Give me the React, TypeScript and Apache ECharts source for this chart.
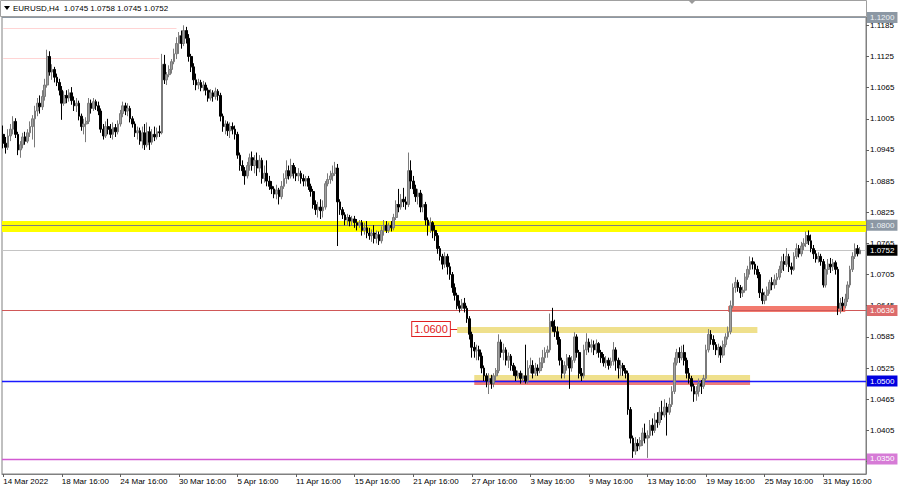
import React, { useEffect, useRef } from 'react';
import * as echarts from 'echarts';

// ---- data (prices in pips: value / 10000) ----
// each candle: [open, close, low, high]
const symbol = 'EURUSD';
const timeframe = 'H4';

const s14Mar = [
  [10975,10958,10948,10992],[10958,10950,10938,10970],[10950,10972,10945,10985],[10972,10985,10962,10995],
  [10985,11000,10975,11010],[11000,10975,10968,11006],[10975,10945,10935,10980],[10945,10955,10930,10962],
  [10955,10970,10948,10978],[10970,10962,10955,10980],[10962,10978,10958,10985],[10978,10990,10970,11000],
  [10990,11005,10965,11012],[11005,11020,10950,11030],[11020,11035,11010,11045],[11035,11028,11015,11050],
  [11028,11048,11022,11060],[11048,11070,11040,11082],[11070,11125,11065,11138],[11125,11095,11088,11135],
  [11095,11100,11080,11110],[11100,11085,11075,11105],[11085,11075,11068,11092],[11075,11060,11050,11082],
];
const s18Mar = [
  [11060,11035,11003,11068],[11035,11050,11030,11058],[11050,11045,11035,11060],[11045,11055,11038,11062],
  [11055,11040,11032,11066],[11040,11030,11020,11048],[11030,11035,11018,11045],[11035,11010,11002,11040],
  [11010,10990,10982,11015],[10990,10995,10975,11005],[10995,11000,10960,11008],[11000,11035,10995,11045],
  [11035,11025,11015,11042],[11025,11038,11020,11045],[11038,11030,11022,11042],[11030,11020,11012,11038],
  [11020,10985,10978,11025],[10985,10972,10965,10995],[10972,10990,10968,11000],[10990,10985,10975,11005],
  [10985,10975,10968,10995],[10975,10988,10965,10998],[10988,10980,10970,10995],[10980,10995,10975,11002],
];
const s24Mar = [
  [10995,11015,10990,11022],[11015,11030,11008,11038],[11030,11020,11012,11036],[11020,11025,11010,11035],
  [11025,11005,10998,11030],[11005,10995,10988,11010],[10995,10978,10970,11000],[10978,10982,10965,10990],
  [10982,10962,10955,10988],[10962,10978,10948,10990],[10978,10955,10945,10995],[10955,10980,10950,10998],
  [10980,10960,10945,10990],[10960,10975,10955,10985],[10975,10970,10962,10990],[10970,10980,10965,10988],
  [10980,10978,10970,10992],[10978,11110,10975,11130],[11110,11080,11072,11128],[11080,11090,11070,11095],
  [11090,11100,11085,11108],[11100,11115,11092,11120],[11115,11130,11110,11140],[11130,11150,11120,11162],
];
const s30Mar = [
  [11150,11165,11130,11172],[11165,11150,11140,11175],[11150,11175,11145,11185],[11175,11160,11150,11182],
  [11160,11125,11115,11168],[11125,11105,11095,11130],[11105,11080,11070,11112],[11080,11070,11060,11092],
  [11070,11075,11062,11082],[11075,11065,11058,11080],[11065,11070,11058,11078],[11070,11060,11050,11075],
  [11060,11045,11038,11065],[11045,11055,11040,11062],[11055,11048,11038,11060],[11048,11058,11042,11065],
  [11058,11050,11040,11062],[11050,11010,11000,11055],[11010,10990,10980,11015],[10990,10995,10975,11002],
  [10995,10982,10972,11000],[10982,10990,10968,10998],[10990,10985,10975,10998],[10985,10975,10965,10992],
];
const s5Apr = [
  [10975,10935,10928,10980],[10935,10915,10905,10940],[10915,10905,10895,10925],[10905,10895,10878,10912],
  [10895,10915,10890,10922],[10915,10930,10905,10938],[10930,10915,10905,10942],[10915,10925,10900,10935],
  [10925,10910,10895,10940],[10910,10925,10902,10935],[10925,10890,10880,10930],[10890,10900,10882,10915],
  [10900,10885,10875,10925],[10885,10875,10868,10895],[10875,10870,10860,10885],[10870,10860,10852,10875],
  [10860,10868,10850,10878],[10868,10855,10840,10872],[10855,10875,10850,10885],[10875,10890,10870,10900],
  [10890,10905,10880,10925],[10905,10895,10888,10915],[10895,10915,10890,10928],[10915,10900,10890,10920],
];
const s11Apr = [
  [10900,10895,10885,10912],[10895,10900,10885,10910],[10900,10890,10880,10905],[10890,10885,10875,10898],
  [10885,10890,10875,10895],[10890,10875,10868,10895],[10875,10865,10855,10880],[10865,10840,10832,10870],
  [10840,10830,10820,10848],[10830,10835,10815,10845],[10835,10828,10812,10850],[10828,10835,10815,10848],
  [10835,10880,10830,10885],[10880,10888,10875,10900],[10888,10895,10880,10905],[10895,10900,10885,10915],
  [10900,10910,10895,10922],[10910,10845,10760,10918],[10845,10830,10820,10850],[10830,10820,10812,10835],
  [10820,10810,10800,10825],[10810,10815,10800,10822],[10815,10808,10798,10820],[10808,10812,10800,10818],
];
const s15Apr = [
  [10812,10805,10795,10818],[10805,10800,10790,10812],[10800,10805,10795,10810],[10805,10790,10780,10810],
  [10790,10795,10782,10805],[10795,10785,10775,10808],[10785,10780,10772,10795],[10780,10785,10768,10792],
  [10785,10775,10765,10800],[10775,10782,10765,10790],[10782,10770,10762,10788],[10770,10790,10765,10798],
  [10790,10800,10780,10810],[10800,10790,10785,10808],[10790,10800,10785,10805],[10800,10795,10788,10808],
  [10795,10815,10790,10822],[10815,10840,10810,10848],[10840,10835,10825,10870],[10835,10850,10830,10860],
  [10850,10845,10835,10872],[10845,10840,10830,10855],[10840,10905,10835,10940],[10905,10885,10870,10925],
];
const s21Apr = [
  [10885,10870,10860,10895],[10870,10855,10845,10878],[10855,10862,10840,10870],[10862,10835,10825,10868],
  [10835,10840,10825,10860],[10840,10810,10800,10845],[10810,10800,10780,10815],[10800,10805,10785,10815],
  [10805,10790,10775,10808],[10790,10780,10770,10800],[10780,10755,10745,10785],[10755,10740,10732,10760],
  [10740,10725,10715,10745],[10725,10740,10718,10748],[10740,10720,10705,10745],[10720,10705,10695,10728],
  [10705,10680,10670,10710],[10680,10665,10655,10688],[10665,10645,10638,10670],[10645,10640,10632,10655],
  [10640,10650,10635,10658],[10650,10640,10632,10660],[10640,10620,10612,10645],[10620,10590,10580,10625],
];
const s27Apr = [
  [10590,10565,10545,10595],[10565,10558,10545,10575],[10558,10560,10540,10570],[10560,10548,10540,10568],
  [10548,10525,10515,10555],[10525,10510,10500,10530],[10510,10500,10488,10515],[10500,10505,10475,10515],
  [10505,10495,10485,10512],[10495,10510,10488,10515],[10510,10520,10500,10525],[10520,10575,10515,10590],
  [10575,10555,10545,10580],[10555,10560,10540,10572],[10560,10540,10530,10565],[10540,10548,10525,10555],
  [10548,10530,10520,10552],[10530,10520,10510,10535],[10520,10510,10500,10528],[10510,10515,10505,10520],
  [10515,10505,10495,10520],[10505,10510,10498,10515],[10510,10500,10495,10570],[10500,10525,10495,10540],
];
const s3May = [
  [10525,10530,10515,10545],[10530,10515,10505,10540],[10515,10525,10510,10535],[10525,10520,10510,10532],
  [10520,10535,10515,10545],[10535,10545,10525,10560],[10545,10555,10535,10565],[10555,10560,10545,10568],
  [10560,10615,10555,10630],[10615,10605,10595,10641],[10605,10595,10585,10618],[10595,10580,10570,10605],
  [10580,10540,10530,10585],[10540,10515,10505,10545],[10515,10530,10505,10538],[10530,10545,10520,10552],
  [10545,10525,10485,10550],[10525,10540,10518,10548],[10540,10585,10535,10594],[10585,10555,10545,10590],
  [10555,10515,10505,10560],[10515,10510,10500,10525],[10510,10560,10505,10570],[10560,10575,10550,10592],
];
const s9May = [
  [10575,10565,10555,10582],[10565,10570,10555,10580],[10570,10560,10550,10578],[10560,10572,10552,10580],
  [10572,10555,10545,10575],[10555,10545,10535,10560],[10545,10535,10528,10552],[10535,10540,10525,10548],
  [10540,10530,10522,10545],[10530,10538,10525,10545],[10538,10560,10530,10575],[10560,10540,10520,10565],
  [10540,10525,10505,10545],[10525,10530,10510,10540],[10530,10520,10510,10535],[10520,10515,10505,10525],
  [10515,10445,10435,10520],[10445,10390,10380,10450],[10390,10365,10352,10395],[10365,10380,10358,10392],
  [10380,10375,10365,10388],[10375,10385,10368,10392],[10385,10400,10375,10410],[10400,10390,10380,10418],
];
const s13May = [
  [10390,10395,10352,10405],[10395,10415,10390,10425],[10415,10405,10395,10428],[10405,10425,10400,10438],
  [10425,10420,10410,10440],[10420,10440,10415,10450],[10440,10435,10425,10462],[10435,10450,10430,10465],
  [10450,10440,10395,10458],[10440,10455,10435,10468],[10455,10480,10450,10490],[10480,10535,10475,10545],
  [10535,10555,10530,10562],[10555,10545,10535,10565],[10545,10555,10540,10568],[10555,10540,10530,10570],
  [10540,10515,10505,10545],[10515,10505,10495,10525],[10505,10490,10480,10510],[10490,10475,10460,10495],
  [10475,10480,10462,10490],[10480,10495,10470,10505],[10495,10490,10475,10502],[10490,10505,10485,10512],
];
const s19May = [
  [10505,10560,10500,10570],[10560,10590,10555,10600],[10590,10580,10570,10598],[10580,10570,10560,10588],
  [10570,10560,10550,10575],[10560,10565,10545,10572],[10565,10550,10535,10568],[10550,10570,10545,10578],
  [10570,10585,10565,10592],[10585,10595,10580,10605],[10595,10645,10590,10655],[10645,10680,10640,10688],
  [10680,10690,10670,10700],[10690,10680,10672,10695],[10680,10670,10660,10685],[10670,10675,10662,10682],
  [10675,10700,10670,10708],[10700,10715,10695,10722],[10715,10730,10705,10740],[10730,10725,10715,10738],
  [10725,10715,10705,10730],[10715,10705,10698,10722],[10705,10670,10660,10710],[10670,10655,10648,10678],
];
const s25May = [
  [10655,10665,10648,10672],[10665,10675,10655,10682],[10675,10690,10668,10695],[10690,10685,10675,10700],
  [10685,10695,10678,10705],[10695,10700,10685,10708],[10700,10715,10695,10722],[10715,10730,10708,10740],
  [10730,10725,10712,10745],[10725,10740,10720,10756],[10740,10720,10710,10745],[10720,10715,10705,10728],
  [10715,10740,10712,10748],[10740,10755,10735,10765],[10755,10745,10738,10762],[10745,10760,10740,10768],
  [10760,10765,10752,10775],[10765,10780,10758,10788],[10780,10770,10762,10790],[10770,10755,10748,10782],
  [10755,10745,10735,10762],[10745,10735,10728,10752],[10735,10740,10728,10748],[10740,10730,10722,10745],
];
const s31May = [
  [10730,10685,10680,10735],[10685,10715,10680,10725],[10715,10725,10705,10735],[10725,10720,10708,10737],
  [10720,10728,10712,10735],[10728,10715,10705,10732],[10715,10640,10627,10720],[10640,10650,10630,10660],
  [10650,10645,10635,10662],[10645,10658,10640,10668],[10658,10685,10652,10692],[10685,10715,10680,10722],
  [10715,10740,10710,10748],[10740,10755,10735,10765],[10755,10745,10740,10762],[10745,10752,10745,10758],
];

const candleWeeks = [s14Mar, s18Mar, s24Mar, s30Mar, s5Apr, s11Apr, s15Apr, s21Apr, s27Apr, s3May, s9May, s13May, s19May, s25May, s31May];
const rightShiftBars = 2;

const timeLabels = [
  '14 Mar 2022', '18 Mar 16:00', '24 Mar 16:00', '30 Mar 16:00', '5 Apr 16:00', '11 Apr 16:00', '15 Apr 16:00',
  '21 Apr 16:00', '27 Apr 16:00', '3 May 16:00', '9 May 16:00', '13 May 16:00', '19 May 16:00', '25 May 16:00', '31 May 16:00',
];
const barsPerLabel = 24;

// right price scale: tick marks, and the labels that are not covered by a level tag
const priceTicks = [1.1185, 1.1125, 1.1065, 1.1005, 1.0945, 1.0885, 1.0825, 1.0765, 1.0705, 1.0645, 1.0585, 1.0525, 1.0465, 1.0405, 1.0345];
const priceTickLabels = [1.1185, 1.1125, 1.1065, 1.1005, 1.0945, 1.0885, 1.0825, 1.0765, 1.0705, 1.0645, 1.0585, 1.0525, 1.0465, 1.0405];
const priceMin = 1.0321;
const priceMax = 1.1201;

// horizontal levels (full width)
const levelPrices = [1.12, 1.08, 1.0752, 1.0636, 1.05, 1.035];
const levelLineColors = ['#8c98a4', '#808080', '#c4c4c4', '#d05858', '#1a1aff', '#d25ad2'];
const levelLineWidths = [1, 1, 1, 1.2, 1.4, 1.4];
const levelTagColors = ['#8c98a4', '#8c98a4', '#000000', '#dc6b6b', '#0000e0', '#d67bd6'];
const levelTagText = ['#eef2f6', '#eef2f6', '#ffffff', '#ffffff', '#ffffff', '#ffffff'];

// full-width band
const yellowBand = [1.08083, 1.07871];

// zones: [fromBar, toBar, topPrice, bottomPrice]
const zones = [
  [186, 309, 1.0604, 1.05925],
  [193, 306, 1.05116, 1.05019],
  [193, 306, 1.05019, 1.04923],
  [297, 345, 1.06445, 1.0633],
];
const zoneColors = ['#efe08c', '#efe08c', '#ee7d78', '#f27a6e'];

// faint old lines: [fromBar, toBar, price]
const oldLines = [
  [0, 71, 1.118],
  [0, 64, 1.1122],
];

// 1.0600 text marker: [fromBar, toBar, price]
const tagLine = [183, 186, 1.06];

const FONT = 'Liberation Sans, Arial, sans-serif';

function buildOption() {
  const candles = candleWeeks.flat();
  const ohlc = candles.map((c) => c.map((v) => v / 10000));
  const categories = [
    ...candles.map((_, i) => String(i)),
    ...Array.from({ length: rightShiftBars }, (_, i) => 'shift' + i),
  ];
  const last = candles[candles.length - 1];
  const fmt = (v: number) => (v / 10000).toFixed(4);
  const headerText = `${symbol},${timeframe}  ${fmt(last[0])} ${fmt(last[3])} ${fmt(last[2])} ${fmt(last[1])}`;

  const labelTick = (i: number) => i % barsPerLabel === 0 && i / barsPerLabel < timeLabels.length;

  const markLineData: any[] = levelPrices.map((p, k) => ({
    yAxis: p,
    lineStyle: { color: levelLineColors[k], width: levelLineWidths[k], type: 'solid', opacity: 1 },
    label: {
      show: true,
      position: 'end',
      formatter: p.toFixed(4),
      backgroundColor: levelTagColors[k],
      color: levelTagText[k],
      fontSize: 8,
      fontFamily: FONT,
      padding: [2, 3, 1, 3],
      distance: 1,
    },
  }));
  oldLines.forEach(([a, b, p]) => {
    markLineData.push([
      { coord: [a, p], lineStyle: { color: '#ffd4d4', width: 1, type: 'solid' }, label: { show: false } },
      { coord: [b, p] },
    ]);
  });
  markLineData.push([
    {
      coord: [tagLine[0], tagLine[2]],
      lineStyle: { color: '#e02020', width: 1, type: 'solid' },
      label: {
        show: true,
        position: 'start',
        formatter: tagLine[2].toFixed(4),
        color: '#e02020',
        fontSize: 11,
        fontFamily: FONT,
        backgroundColor: '#ffffff',
        borderColor: '#e02020',
        borderWidth: 1,
        padding: [2, 2, 1, 2],
        distance: 0,
      },
    },
    { coord: [tagLine[1], tagLine[2]] },
  ]);

  const markAreaData: any[] = [
    [{ yAxis: yellowBand[0], itemStyle: { color: '#ffff00', opacity: 1 } }, { yAxis: yellowBand[1] }],
    ...zones.map(([a, b, t, btm], k) => [
      { xAxis: a, yAxis: t, itemStyle: { color: zoneColors[k], opacity: 1 } },
      { xAxis: b, yAxis: btm },
    ]),
  ];

  return {
    animation: false,
    backgroundColor: '#ffffff',
    textStyle: { fontFamily: FONT },
    grid: {
      left: 2,
      right: 34,
      top: 17,
      bottom: 14,
      show: true,
      borderColor: '#808080',
      borderWidth: 1,
      backgroundColor: '#ffffff',
      containLabel: false,
      outerBoundsMode: 'none',
    },
    xAxis: {
      type: 'category',
      data: categories,
      boundaryGap: true,
      axisLine: { show: true, lineStyle: { color: '#808080' } },
      axisTick: { show: true, alignWithLabel: true, interval: labelTick, length: 3, lineStyle: { color: '#606060' } },
      axisLabel: {
        interval: labelTick,
        formatter: (_v: string, i: number) => timeLabels[i / barsPerLabel] ?? '',
        align: 'left',
        margin: 3,
        fontSize: 8,
        color: '#000000',
        fontFamily: FONT,
      },
      splitLine: { show: false },
    },
    yAxis: {
      type: 'value',
      position: 'right',
      min: priceMin,
      max: priceMax,
      splitLine: { show: false },
      axisLine: { show: true, lineStyle: { color: '#808080' } },
      axisTick: { show: true, length: 3, customValues: priceTicks, lineStyle: { color: '#606060' } },
      axisLabel: {
        customValues: priceTickLabels,
        formatter: (v: number) => v.toFixed(4),
        fontSize: 8,
        color: '#000000',
        margin: 4,
        fontFamily: FONT,
      },
    },
    series: [
      {
        type: 'candlestick',
        data: ohlc,
        barWidth: 2.2,
        clip: true,
        itemStyle: {
          color: '#a0a0a0',
          color0: '#000000',
          borderColor: '#7a7a7a',
          borderColor0: '#000000',
          borderWidth: 1,
        },
        markArea: { silent: true, z: 1, precision: 6, data: markAreaData },
        markLine: { silent: true, symbol: ['none', 'none'], z: 1, precision: 6, data: markLineData },
      },
    ],
    graphic: [
      {
        type: 'rect',
        z: 10,
        shape: { x: 0.5, y: 0.5, width: 866, height: 16 },
        style: { fill: '#ffffff', stroke: '#a0a0a0', lineWidth: 1 },
      },
      {
        type: 'polygon',
        z: 11,
        shape: { points: [[4, 6], [10, 6], [7, 10]] },
        style: { fill: '#000000' },
      },
      {
        type: 'text',
        z: 11,
        x: 13,
        y: 8.5,
        style: { text: headerText, fontSize: 8, fill: '#000000', verticalAlign: 'middle', fontFamily: FONT },
      },
      {
        type: 'polygon',
        z: 11,
        shape: { points: [[688, 0], [696, 0], [692, 4]] },
        style: { fill: '#9a9a9a' },
      },
    ],
  };
}

export default function App() {
  const ref = useRef<HTMLDivElement>(null);
  useEffect(() => {
    const el = ref.current;
    if (!el) return;
    const chart = echarts.init(el, null, { renderer: 'svg' });
    chart.setOption(buildOption() as any);
    return () => chart.dispose();
  }, []);
  return (
    <div
      ref={ref}
      style={{ position: 'absolute', left: 0, top: 0, width: 900, height: 488, background: '#ffffff' }}
    />
  );
}
